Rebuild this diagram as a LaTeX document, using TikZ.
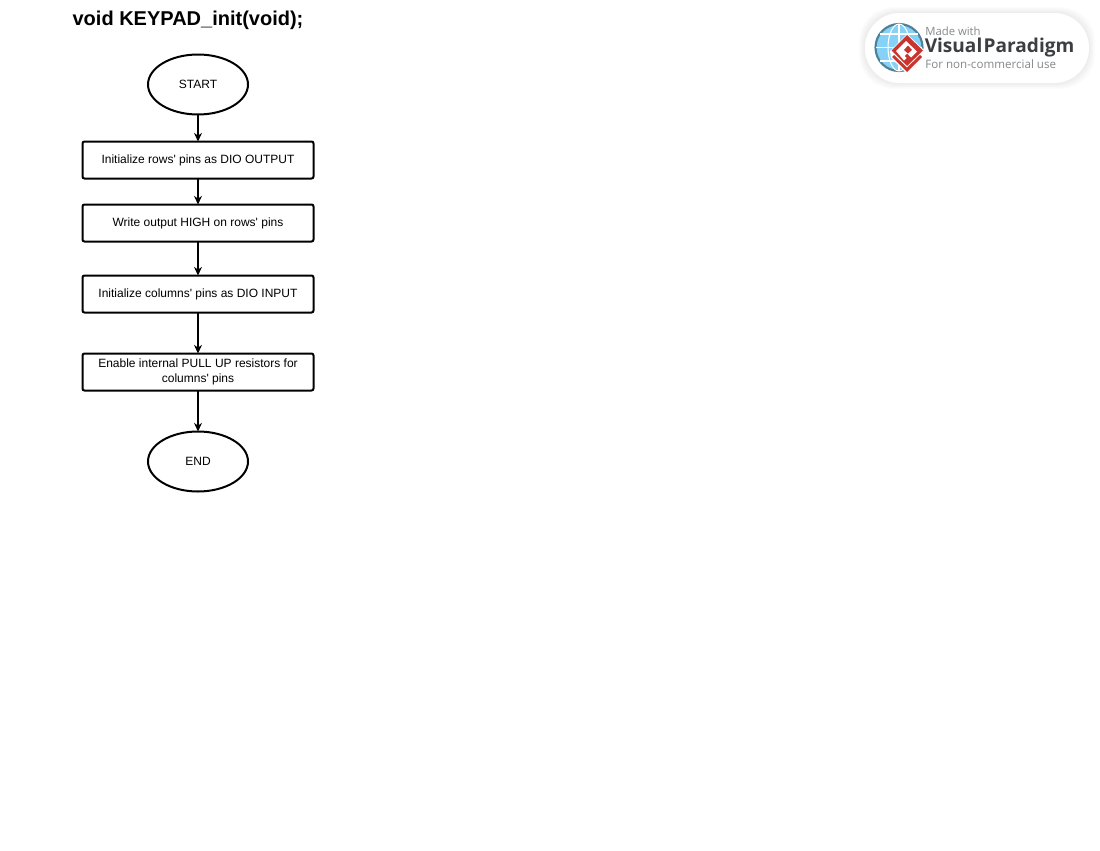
\documentclass[tikz,border=0pt]{standalone}
\usepackage{fontspec}
\setmainfont{Liberation Sans}
\newfontfamily\badgefont{Open Sans}
\usetikzlibrary{positioning, arrows.meta, shapes.geometric}
\definecolor{badgeblue}{HTML}{86D2F7}
\definecolor{badgering}{HTML}{4F8196}
\definecolor{badgered}{HTML}{C8352E}
\definecolor{badgetext}{HTML}{3C3F42}
\definecolor{badgegray}{HTML}{85888A}
\tikzset{
  terminal/.style={ellipse, draw, line width=1.5pt, minimum width=75pt, minimum height=45pt, inner sep=0pt, outer sep=0pt, font=\fontsize{9}{11}\selectfont},
  process/.style={rectangle, draw, line width=1.5pt, rounded corners=1.5pt, minimum width=173.25pt, minimum height=27.75pt, inner sep=0pt, outer sep=0pt, align=center, font=\fontsize{9}{11.5}\selectfont},
  flow/.style={-{Stealth[length=6.5pt,width=6pt]}, line width=0.8pt},
}
\newcommand{\aps}{\textquotesingle}
\begin{document}
\begin{tikzpicture}[x=0.75pt, y=-0.75pt]
        \useasboundingbox (0,0) rectangle (1100,850);
        \node[font=\bfseries\fontsize{15}{18}\selectfont] (title) at (188,20) {void KEYPAD\_init(void);};
        % Flow chart
        \node[terminal] (start) at (198,84.5) {START};
        \node[process, below=20.25pt of start] (rowsinit) {Initialize rows\aps{} pins as DIO OUTPUT};
        \node[process, below=19.5pt of rowsinit] (rowshigh) {Write output HIGH on rows\aps{} pins};
        \node[process, below=25.5pt of rowshigh] (colsinit) {Initialize columns\aps{} pins as DIO INPUT};
        \node[process, below=30.75pt of colsinit] (pullup) {Enable internal PULL UP resistors for\\columns\aps{} pins};
        \node[terminal, below=30.75pt of pullup] (end) {END};
        % Arrows between components
        \draw[flow] (start) -- (rowsinit);
        \draw[flow] (rowsinit) -- (rowshigh);
        \draw[flow] (rowshigh) -- (colsinit);
        \draw[flow] (colsinit) -- (pullup);
        \draw[flow] (pullup) -- (end);
        % Badge
        \foreach \grow in {6,5,4,3,2,1}
            \fill[black, opacity=0.012, rounded corners=26pt] ({865-\grow},{13-\grow}) rectangle ({1089+\grow},{83+\grow});
        \node[rectangle, fill=white, rounded corners=26pt, minimum width=168pt, minimum height=52.5pt, inner sep=0pt] (badge) at (977,48) {};
        \fill[badgeblue] (899,47.5) circle[radius=24];
        \draw[badgering, line width=1.6pt] (899,47.5) circle[radius=23.5];
        \draw[white, line width=0.8pt] (899,24) -- (899,71) (876,47.5) -- (922,47.5) (880,34) -- (918,34) (880,61) -- (918,61);
        \draw[white, line width=0.8pt] (899,47.5) ellipse[x radius=11, y radius=23.5];
        \fill[white] (890,51) -- (907,34) -- (925,51) -- (924,58) -- (907,74) -- (891,58) -- cycle;
        \fill[badgered] (894,55) -- (907,67.5) -- (920,55) -- (922,57) -- (907,72) -- (892,57) -- cycle;
        \fill[badgered] (907,35) -- (923,50.5) -- (907,66) -- (891.5,50.5) -- cycle;
        \fill[white] (906,41) -- (917,51.5) -- (911,57.5) -- (907,53.5) -- (904.5,56) -- (906.5,58) -- (904,60.5) -- (896,51) -- cycle;
        \fill[badgered] (908,45.5) -- (912,50) -- (908,53.5) -- (904,50) -- cycle;
        \node[anchor=west, inner sep=0pt, text=badgegray, font=\badgefont\fontsize{8.5}{10}\selectfont] (madewith) at (925,31) {Made with};
        \node[anchor=west, inner sep=0pt, text=badgetext, font=\badgefont\bfseries\fontsize{14.3}{18}\selectfont] (vpname) at (924.5,47.5) {Visual\kern1pt Paradigm};
        \node[anchor=west, inner sep=0pt, text=badgegray, font=\badgefont\fontsize{8.7}{10}\selectfont] (noncomm) at (925,64) {For non-commercial use};
    \end{tikzpicture}
\end{document}
